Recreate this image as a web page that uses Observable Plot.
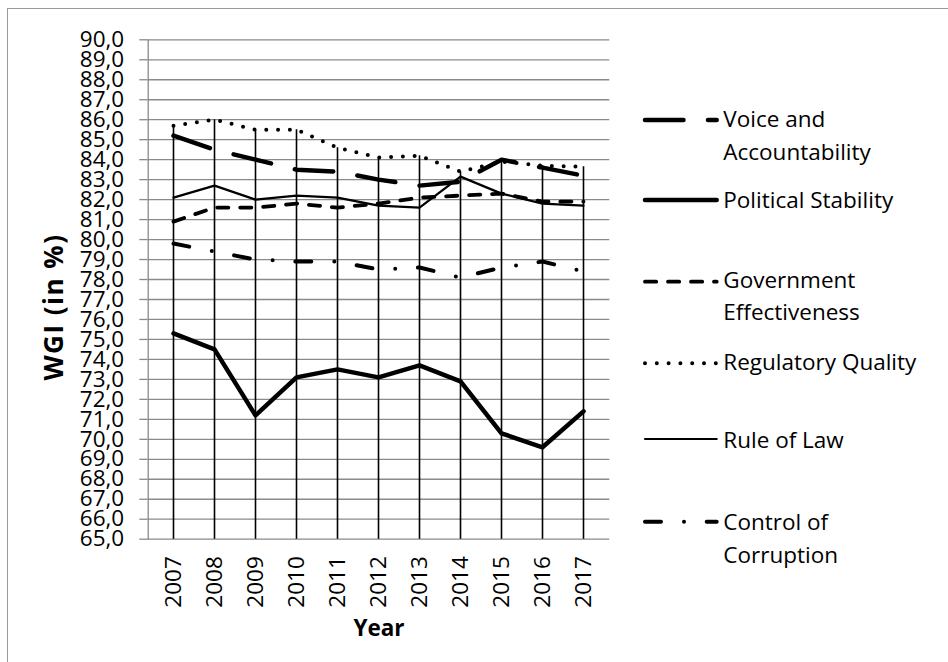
<!DOCTYPE html>
<html>
<head>
<meta charset="utf-8">
<script src="https://cdn.jsdelivr.net/npm/d3@7"></script>
<script src="https://cdn.jsdelivr.net/npm/@observablehq/plot@0.6"></script>
<style>
  html, body { margin: 0; padding: 0; background: #fff; }
  #wrap { position: relative; width: 948px; height: 662px; overflow: hidden; font-family: "Open Sans", sans-serif; }
  #frame { position: absolute; left: 7px; top: 8px; width: 1000px; height: 1000px;
           border-left: 1.3px solid #9a9a9a; border-top: 1.3px solid #9a9a9a; pointer-events: none; }
  #legend { position: absolute; left: 0; top: 0; pointer-events: none; }
</style>
</head>
<body>
<div id="wrap"><div id="frame"></div></div>
<script>
// ---- data ----
const years = [2007, 2008, 2009, 2010, 2011, 2012, 2013, 2014, 2015, 2016, 2017];
const yTickValues = [65, 66, 67, 68, 69, 70, 71, 72, 73, 74, 75, 76, 77, 78, 79, 80, 81, 82, 83, 84, 85, 86, 87, 88, 89, 90];
const seriesNames = ["Voice and Accountability", "Political Stability", "Government Effectiveness", "Regulatory Quality", "Rule of Law", "Control of Corruption"];
const voiceAccountability = [85.2, 84.5, 84.0, 83.5, 83.4, 83.0, 82.7, 82.9, 84.0, 83.6, 83.2];
const politicalStability  = [75.3, 74.5, 71.2, 73.1, 73.5, 73.1, 73.7, 72.9, 70.3, 69.6, 71.4];
const govEffectiveness    = [80.9, 81.6, 81.6, 81.8, 81.6, 81.8, 82.1, 82.2, 82.3, 81.9, 81.9];
const regulatoryQuality   = [85.7, 86.0, 85.5, 85.5, 84.6, 84.1, 84.2, 83.4, 83.9, 83.7, 83.65];
const ruleOfLaw           = [82.1, 82.7, 82.0, 82.2, 82.1, 81.7, 81.6, 83.15, 82.3, 81.8, 81.7];
const controlCorruption   = [79.8, 79.4, 79.0, 78.9, 78.9, 78.5, 78.6, 78.1, 78.6, 78.9, 78.4];
const xTitle = "Year";
const yTitle = "WGI (in %)";
const legendLines = [["Voice and", "Accountability"], ["Political Stability"], ["Government", "Effectiveness"], ["Regulatory Quality"], ["Rule of Law"], ["Control of", "Corruption"]];

// ---- styles ----
const allSeries = [voiceAccountability, politicalStability, govEffectiveness, regulatoryQuality, ruleOfLaw, controlCorruption];
const seriesStyles = [
  {w: 4.5, dash: "38.5,24.5"},
  {w: 4.5, dash: null},
  {w: 3.8, dash: "11.2,11.8"},
  {w: 4.0, dash: "0,11.8"},
  {w: 2.2, dash: null},
  {w: 4.0, dash: "16,23,0,22.7"}
];
const legendLayout = [
  {ly: 120, base: [127, 159.5]},
  {ly: 200, base: [208.3]},
  {ly: 281.7, base: [287.5, 320]},
  {ly: 363.3, base: [370]},
  {ly: 439, base: [448]},
  {ly: 521.7, base: [530, 562.5]}
];
const gridColor = "#8a8a8a";
const FS = 22.5;

const seriesData = allSeries.map((arr, k) => years.map((yr, i) => ({year: yr, value: arr[i], series: seriesNames[k]})));
const dropData = years.map((yr, i) => ({year: yr, top: d3.max(allSeries, s => s[i])}));

const lineMarks = seriesData.map((data, k) => Plot.line(data, {
  x: "year", y: "value",
  stroke: "#000",
  strokeWidth: seriesStyles[k].w,
  strokeDasharray: seriesStyles[k].dash || undefined,
  strokeLinecap: "round",
  strokeLinejoin: "round"
}));

const chart = Plot.plot({
  width: 948,
  height: 662,
  marginLeft: 147.7,
  marginRight: 338.7,
  marginTop: 39.3,
  marginBottom: 123.3,
  style: {fontFamily: "'Open Sans', sans-serif", fontSize: FS + "px", color: "#000", background: "transparent"},
  x: {type: "point", domain: years, padding: 0.5},
  y: {domain: [65, 90]},
  marks: [
    Plot.gridY(yTickValues, {stroke: gridColor, strokeOpacity: 1, strokeWidth: 1.3}),
    Plot.frame({anchor: "left", stroke: gridColor, strokeWidth: 1.3}),
    Plot.ruleX(dropData, {x: "year", y1: d => 65, y2: "top", stroke: "#000", strokeWidth: 1.6}),
    ...lineMarks,
    Plot.axisY(yTickValues, {
      tickFormat: d => d.toFixed(1).replace(".", ","),
      tickSize: 8.4, tickPadding: 15.6,
      stroke: gridColor, strokeWidth: 1.3,
      fontSize: FS, label: null
    }),
    Plot.axisX(years, {
      tickRotate: -90, tickSize: 0, tickPadding: 17,
      tickFormat: d => String(d), fontSize: FS, label: null
    }),
    Plot.text([xTitle], {frameAnchor: "bottom", dy: 97.1, fontWeight: "bold", fontSize: FS, text: d => d})
  ]
});

const wrap = document.getElementById("wrap");
wrap.insertBefore(chart, wrap.firstChild);

// ---- legend and y-axis title overlay ----
const leg = d3.select(wrap).append("svg")
  .attr("id", "legend")
  .attr("width", 948).attr("height", 662);

leg.append("text")
  .attr("transform", "translate(63.3,307) rotate(-90)")
  .attr("text-anchor", "middle")
  .attr("font-family", "'Open Sans', sans-serif")
  .attr("font-weight", "bold")
  .attr("font-size", 26)
  .attr("letter-spacing", "1.5px")
  .attr("fill", "#000")
  .text(yTitle);

seriesNames.forEach((name, k) => {
  const L = legendLayout[k];
  const st = seriesStyles[k];
  leg.append("line")
    .attr("x1", 645).attr("x2", 716.7)
    .attr("y1", L.ly).attr("y2", L.ly)
    .attr("stroke", "#000")
    .attr("stroke-width", st.w)
    .attr("stroke-linecap", "round")
    .attr("stroke-dasharray", st.dash);
  legendLines[k].forEach((t, j) => {
    leg.append("text")
      .attr("x", 723.3).attr("y", L.base[j])
      .attr("font-family", "'Open Sans', sans-serif")
      .attr("font-size", FS)
      .attr("fill", "#000")
      .text(t);
  });
});
</script>
</body>
</html>
